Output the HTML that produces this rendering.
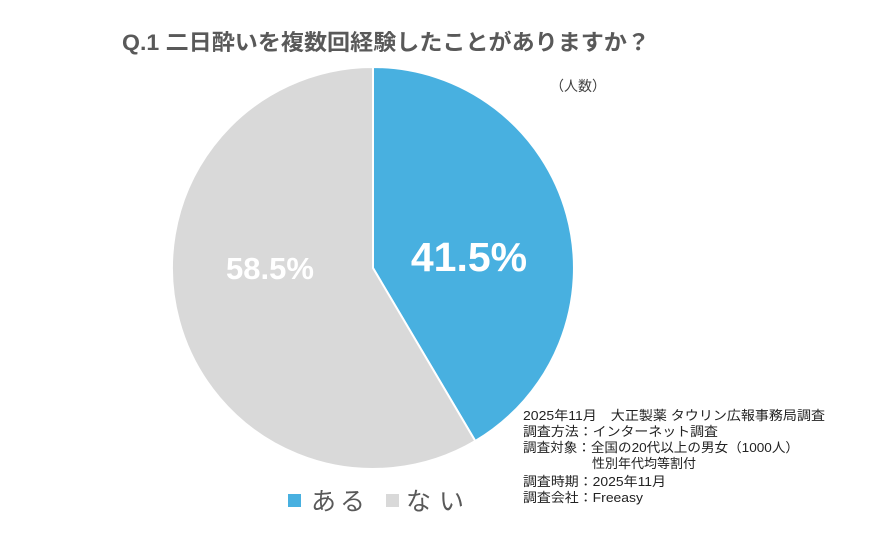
<!DOCTYPE html>
<html><head><meta charset="utf-8"><style>
body{margin:0;background:#fff;width:892px;height:558px;overflow:hidden;font-family:"Liberation Sans","Noto Sans CJK JP",sans-serif;}
</style></head><body>
<svg width="892" height="558" xmlns="http://www.w3.org/2000/svg" style="position:absolute;left:0;top:0">
<text x="122" y="50" font-size="22" font-weight="bold" fill="#595959" font-family="Liberation Sans, Noto Sans CJK JP, sans-serif" textLength="528" lengthAdjust="spacingAndGlyphs">Q.1 二日酔いを複数回経験したことがありますか？</text>
<text x="550" y="91" font-size="14" fill="#404040" font-family="Liberation Sans, Noto Sans CJK JP, sans-serif">（人数）</text>
<path d="M373,268 L373,67 A201,201 0 0,1 475.3,441 Z" fill="#48B0E0" stroke="#fff" stroke-width="2"/>
<path d="M373,268 L475.3,441 A201,201 0 1,1 373,67 Z" fill="#D9D9D9" stroke="#fff" stroke-width="2"/>
<text x="469" y="271" font-size="41" font-weight="bold" fill="#fff" text-anchor="middle" font-family="Liberation Sans, sans-serif">41.5%</text>
<text x="270" y="279" font-size="31" font-weight="bold" fill="#fff" text-anchor="middle" font-family="Liberation Sans, sans-serif">58.5%</text>
<rect x="288" y="494" width="13" height="13" fill="#48B0E0"/>
<text x="311" y="510" font-size="25" fill="#595959" font-family="Liberation Sans, Noto Sans CJK JP, sans-serif" textLength="54">ある</text>
<rect x="386" y="494" width="13" height="13" fill="#D9D9D9"/>
<text x="406" y="510" font-size="25" fill="#595959" font-family="Liberation Sans, Noto Sans CJK JP, sans-serif" textLength="58">ない</text>
<g font-size="13" fill="#222" font-family="Liberation Sans, Noto Sans CJK JP, sans-serif">
<text x="523" y="420" textLength="302" lengthAdjust="spacingAndGlyphs">2025年11月　大正製薬 タウリン広報事務局調査</text>
<text x="523" y="436" textLength="195" lengthAdjust="spacingAndGlyphs">調査方法：インターネット調査</text>
<text x="523" y="452" textLength="276" lengthAdjust="spacingAndGlyphs">調査対象：全国の20代以上の男女（1000人）</text>
<text x="592" y="468" textLength="104" lengthAdjust="spacingAndGlyphs">性別年代均等割付</text>
<text x="523" y="486" textLength="143" lengthAdjust="spacingAndGlyphs">調査時期：2025年11月</text>
<text x="523" y="502" textLength="120" lengthAdjust="spacingAndGlyphs">調査会社：Freeasy</text>
</g>
</svg>
</body></html>
